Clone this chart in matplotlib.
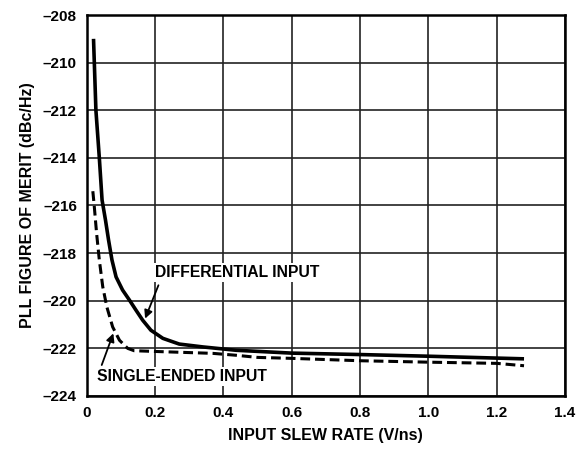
import matplotlib
matplotlib.use("Agg")
import matplotlib.pyplot as plt

plt.rcParams['font.family'] = ['Liberation Sans', 'DejaVu Sans']
plt.rcParams['font.weight'] = 'bold'

# differential input (solid)
diff_x = [0.02, 0.027, 0.037, 0.045, 0.055, 0.064, 0.074, 0.086, 0.105, 0.125, 0.144,
          0.164, 0.188, 0.223, 0.271, 0.34, 0.437, 0.6, 0.8, 1.0, 1.28]
diff_y = [-209.0, -212.0, -214.0, -215.77, -216.61, -217.45, -218.29, -219.0, -219.55, -219.97, -220.39,
          -220.82, -221.24, -221.58, -221.82, -221.94, -222.08, -222.2, -222.26, -222.33, -222.44]

# single-ended input (dashed)
se_x = [0.018, 0.022, 0.029, 0.037, 0.047, 0.059, 0.076, 0.096, 0.12, 0.139, 0.242,
        0.369, 0.437, 0.5, 0.6, 0.8, 1.0, 1.2, 1.28]
se_y = [-215.4, -216.0, -217.17, -218.29, -219.41, -220.26, -221.1, -221.66, -222.0, -222.1, -222.15,
        -222.21, -222.29, -222.38, -222.42, -222.52, -222.58, -222.63, -222.73]

xticks = [0, 0.2, 0.4, 0.6, 0.8, 1.0, 1.2, 1.4]
xticklabels = ['0', '0.2', '0.4', '0.6', '0.8', '1.0', '1.2', '1.4']
yticks = list(range(-224, -207, 2))
yticklabels = ['\u2013%d' % abs(v) for v in yticks]

fig = plt.figure(figsize=(5.81, 4.51), dpi=100)
ax = fig.add_axes([0.1492, 0.122, 0.8233, 0.8447])

ax.plot(diff_x, diff_y, color='black', lw=2.6, solid_capstyle='butt',
        solid_joinstyle='round', zorder=3)
ax.plot(se_x, se_y, color='black', lw=2.2, ls=(0, (3.2, 1.6)),
        dash_joinstyle='round', zorder=3)

ax.set_xlim(0, 1.4)
ax.set_ylim(-224, -208)
ax.set_xticks(xticks)
ax.set_xticklabels(xticklabels, fontsize=11, fontweight='bold')
ax.set_yticks(yticks)
ax.set_yticklabels(yticklabels, fontsize=11, fontweight='bold')
ax.tick_params(length=0, pad=7)
ax.grid(True, color='#222222', lw=1.2, zorder=1)
ax.set_axisbelow(True)
for s in ax.spines.values():
    s.set_linewidth(1.8)
    s.set_zorder(5)

ax.set_xlabel('INPUT SLEW RATE (V/ns)', fontsize=11.5, fontweight='bold', labelpad=6)
ax.set_ylabel('PLL FIGURE OF MERIT (dBc/Hz)', fontsize=11.5, fontweight='bold', labelpad=6)

box = dict(facecolor='white', edgecolor='none', pad=1.5)
arrow = dict(arrowstyle='-|>', color='black', lw=1.3, mutation_scale=12, shrinkA=0, shrinkB=0)
ax.annotate('', xy=(0.171, -220.75), xytext=(0.21, -219.35), arrowprops=arrow, zorder=4)
ax.text(0.44, -218.8, 'DIFFERENTIAL INPUT', fontsize=11.3, fontweight='bold',
        ha='center', va='center', bbox=box, zorder=4)
ax.annotate('', xy=(0.078, -221.37), xytext=(0.044, -222.7), arrowprops=arrow, zorder=4)
ax.text(0.278, -223.2, 'SINGLE-ENDED INPUT', fontsize=11.3, fontweight='bold',
        ha='center', va='center', bbox=box, zorder=4)

fig.savefig('out.png', dpi=100)
